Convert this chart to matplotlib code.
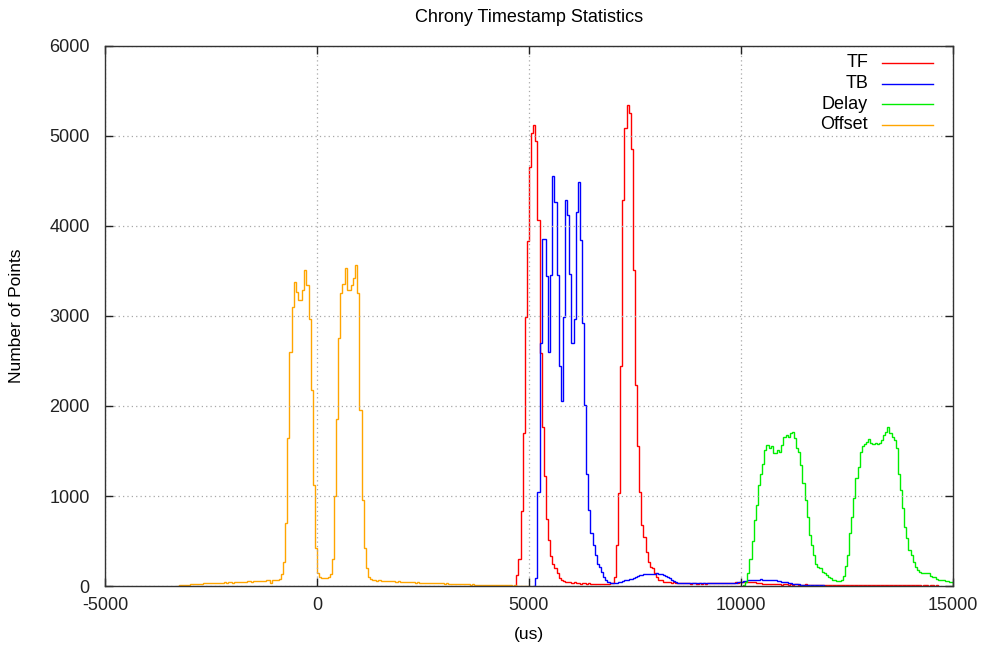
import numpy as np
import matplotlib.pyplot as plt

plt.rcParams['font.family'] = ['Liberation Sans', 'DejaVu Sans']
plt.rcParams['axes.unicode_minus'] = False

BIN = 50  # histogram bin width in us

# TF histogram (counts per 50 us bin), first bin starts at tf_start
tf_start = 4650
tf_counts = [5, 120, 300, 830, 1700, 2990, 3830, 4660, 5030, 5120,
             4940, 4070, 2590, 1770, 1220, 750, 510, 330, 250, 200,
             140, 90, 70, 60, 50, 45, 40, 35, 40, 30,
             30, 25, 30, 28, 25, 30, 25, 22, 25, 20, 25, 22, 20, 25, 22, 30, 28,
             104, 455, 1030, 2440, 4290, 5085, 5344, 5250, 4860, 3510,
             2230, 1550, 1050, 680, 550, 380, 270, 215, 195, 150,
             105, 70, 65, 50,
             45, 42, 40, 38, 40, 35, 38, 35,
             30, 32, 28, 30, 25, 28, 30, 25, 28, 26, 30, 25, 28, 30,
             32, 28, 30, 35, 30, 32, 35, 30, 35, 38, 35, 40, 38, 40,
             45, 48, 50, 45, 48, 42, 40, 38, 35, 30,
             25, 22, 20, 22, 18, 20, 22, 18, 20, 15, 18, 20, 15, 18, 15,
             20, 18, 15, 12, 15, 18, 15, 12, 15, 12, 10, 15, 12, 10, 12,
             10, 12, 8, 10, 12, 10, 8, 10, 12, 8, 10, 8, 10, 12, 10, 8, 10, 8,
             10, 8, 12, 10, 8, 10, 8, 6, 10, 8, 10, 8, 6, 8, 10, 8, 6, 8,
             8, 6, 8, 10, 6, 8, 6, 8, 6, 5, 8, 6, 5, 6, 8, 5, 6]

# TB histogram
tb_start = 5100
tb_counts = [5, 85, 1050, 2700, 3860, 3860, 3440, 2600, 3450, 4560,
             4270, 3450, 2440, 2050, 2990, 4290, 4120, 3470, 2700, 2970,
             4160, 4490, 3840, 2920, 2010, 1250, 845, 585, 455, 345,
             250, 215, 160, 105, 70, 50, 35, 30, 32, 38,
             45, 50, 55, 62, 68, 75, 82, 90, 100, 110,
             118, 125, 130, 132, 135, 138, 132, 135, 140, 135,
             130, 125, 115, 105, 90, 70, 55, 45, 38,
             32, 30, 28, 30, 32, 30, 28, 30, 30, 28, 30, 32, 30, 28, 30,
             30, 32, 30, 28, 30, 30, 32, 35, 30, 32, 35, 38, 40, 45,
             50, 55, 60, 65, 68, 70, 72, 70, 72, 75, 72, 70, 72, 70, 68,
             70, 65, 60, 55, 50, 45, 40,
             35, 30, 25, 22, 20, 18, 15, 15, 12, 12, 10, 10, 8, 8, 10, 8, 6, 5]

# Delay histogram
delay_start = 10050
delay_counts = [10, 40, 150, 300, 500, 730, 900, 1120, 1250, 1360,
                1510, 1565, 1530, 1555, 1475, 1475, 1510, 1490, 1565, 1660,
                1680, 1660, 1705, 1715, 1640, 1530, 1490, 1345, 1140, 955,
                770, 565, 455, 345, 250, 215, 195, 160, 140, 120,
                105, 85, 70, 65, 60, 55, 65, 110, 220,
                350, 585, 770, 975, 1195, 1325, 1490, 1550, 1580, 1605,
                1630, 1585, 1580, 1585, 1580, 1585, 1620, 1680, 1715, 1770,
                1695, 1660, 1620, 1530, 1250, 1065, 865, 660, 530, 400,
                345, 270, 215, 180, 160, 150, 148, 140, 140, 110,
                100, 95, 75, 70, 67, 65, 60, 60, 50, 50]

# Offset histogram
offset_start = -3300
offset_counts = [5, 8, 10, 12, 15, 15,
                 18, 20, 20, 22, 25, 25,
                 30, 28, 32, 30, 35, 32, 35, 30,
                 38, 35, 40, 38, 42, 40, 38, 42, 45, 40, 45,
                 50, 48, 55, 52, 50, 55, 58, 52, 55, 60, 58,
                 62, 65, 35, 68, 70, 72,
                 75, 130, 270, 700, 1640, 2600, 3100, 3380, 3270, 3180,
                 3180, 3290, 3510, 3340, 2970, 2180, 1120, 420, 150, 95,
                 90, 85, 90, 100, 130, 300, 1000, 1860, 2750, 3250,
                 3350, 3530, 3290, 3290, 3340, 3420, 3570, 3250, 1960, 955,
                 420, 200, 100, 75, 65,
                 62, 60, 62, 58, 60, 55, 58, 55, 52, 55, 50, 52, 48,
                 45, 48, 42, 45, 40, 42, 38, 40, 38, 35, 38, 35, 32, 35, 30, 32, 30, 28, 30, 28,
                 25, 28, 25, 22, 25, 22, 20, 22, 20, 18, 20, 18, 16, 18, 15, 16, 15, 14, 15, 12,
                 12, 10, 12, 10, 10, 8, 10, 8, 8, 6, 8, 6, 5, 6, 5, 5, 4, 5, 4, 3]

series = [("TF", tf_start, tf_counts, "#ff0000"),
          ("TB", tb_start, tb_counts, "#0000ff"),
          ("Delay", delay_start, delay_counts, "#00ee00"),
          ("Offset", offset_start, offset_counts, "#ffa500")]

fig = plt.figure(figsize=(9.85, 6.56), dpi=100)
ax = fig.add_axes([0.1066, 0.1067, 0.8609, 0.8232])

for name, start, counts, color in series:
    edges = start + BIN * np.arange(len(counts) + 1)
    ax.stairs(counts, edges, color=color, lw=1.0, baseline=0)

ax.set_xlim(-5000, 15000)
ax.set_ylim(0, 6000)
ax.set_xticks([-5000, 0, 5000, 10000, 15000])
ax.set_yticks(range(0, 6001, 1000))
ax.grid(True, color="#a8a8a8", ls=(0, (1, 2.5)), lw=0.9)
ax.tick_params(direction="in", length=6, width=1, top=True, right=True,
               labelsize=13, colors="#222222")
ax.tick_params(axis="x", pad=8)
ax.tick_params(axis="y", pad=11)
for s in ax.spines.values():
    s.set_color("#333333")
    s.set_linewidth(1)

ax.set_xlabel("(us)", fontsize=12.5, labelpad=9)
ax.set_ylabel("Number of Points", fontsize=12.5, labelpad=18)
ax.set_title("Chrony Timestamp Statistics", fontsize=13, pad=17)

# gnuplot-style key: right-aligned text, sample line on the right
for i, (name, start, counts, color) in enumerate(series):
    y = 0.9685 - i * 0.038
    ax.text(0.8998, y, name, ha="right", va="center", fontsize=13,
            transform=ax.transAxes)
    ax.plot([0.916, 0.976], [y, y], color=color, lw=1.0,
            transform=ax.transAxes)

fig.savefig("out.png", dpi=100)
